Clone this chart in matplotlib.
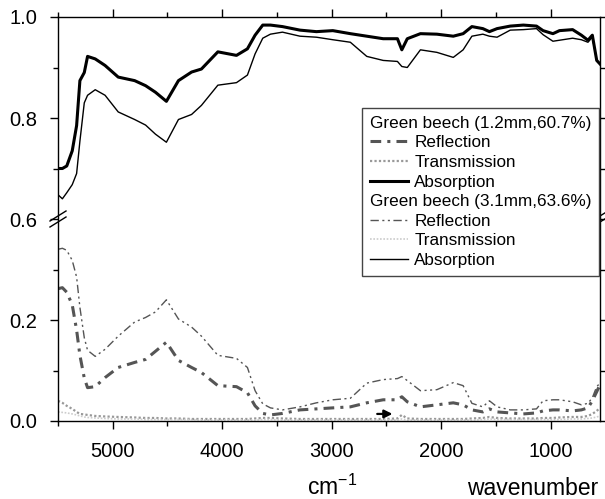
import matplotlib
matplotlib.use('Agg')
import matplotlib.pyplot as plt
from matplotlib.lines import Line2D
from matplotlib.ticker import MultipleLocator, FixedLocator

plt.rcParams['font.family'] = ['Liberation Sans', 'DejaVu Sans']
plt.rcParams['mathtext.fontset'] = 'custom'
plt.rcParams['mathtext.rm'] = 'Liberation Sans'
plt.rcParams['mathtext.default'] = 'regular'

# wavenumber grid (cm^-1)
wn = [5500, 5460, 5420, 5370, 5330, 5300, 5260, 5230, 5160, 5070,
      4950, 4800, 4700, 4610, 4510, 4400, 4280, 4190, 4040, 3870,
      3770, 3700, 3630, 3560, 3450, 3290, 3140, 2990, 2830, 2680,
      2530, 2400, 2360, 2310, 2190, 2040, 1890, 1800, 1720, 1620,
      1560, 1490, 1370, 1250, 1130, 1070, 980, 920, 800, 720,
      660, 620, 580, 550]

# Green beech 1.2mm, 60.7%
abs_12 = [0.700, 0.700, 0.705, 0.735, 0.785, 0.874, 0.890, 0.922, 0.917, 0.904,
          0.881, 0.874, 0.864, 0.851, 0.833, 0.874, 0.891, 0.897, 0.931, 0.924,
          0.937, 0.964, 0.984, 0.984, 0.981, 0.974, 0.971, 0.973, 0.967, 0.962,
          0.957, 0.957, 0.935, 0.957, 0.967, 0.966, 0.962, 0.967, 0.981, 0.977,
          0.971, 0.977, 0.982, 0.984, 0.982, 0.973, 0.967, 0.973, 0.975, 0.964,
          0.954, 0.964, 0.914, 0.907]
ref_12 = [0.262, 0.264, 0.255, 0.230, 0.180, 0.130, 0.085, 0.066, 0.068, 0.086,
          0.106, 0.116, 0.122, 0.138, 0.156, 0.120, 0.106, 0.096, 0.070, 0.068,
          0.056, 0.030, 0.015, 0.012, 0.015, 0.022, 0.024, 0.026, 0.028, 0.036,
          0.042, 0.042, 0.048, 0.038, 0.028, 0.032, 0.036, 0.032, 0.022, 0.018,
          0.024, 0.018, 0.016, 0.014, 0.016, 0.020, 0.022, 0.022, 0.020, 0.022,
          0.026, 0.040, 0.058, 0.072]
tra_12 = [0.040, 0.036, 0.030, 0.024, 0.018, 0.014, 0.013, 0.012, 0.010, 0.009,
          0.008, 0.007, 0.006, 0.006, 0.005, 0.005, 0.004, 0.004, 0.004, 0.004,
          0.004, 0.005, 0.006, 0.006, 0.005, 0.004, 0.004, 0.004, 0.004, 0.004,
          0.004, 0.005, 0.012, 0.005, 0.004, 0.004, 0.004, 0.004, 0.005, 0.006,
          0.008, 0.006, 0.005, 0.005, 0.005, 0.006, 0.006, 0.007, 0.008, 0.008,
          0.010, 0.014, 0.020, 0.026]

# Green beech 3.1mm, 63.6%
abs_31 = [0.648, 0.640, 0.652, 0.668, 0.690, 0.754, 0.830, 0.845, 0.856, 0.845,
          0.812, 0.797, 0.786, 0.768, 0.752, 0.797, 0.807, 0.825, 0.865, 0.870,
          0.885, 0.927, 0.958, 0.966, 0.970, 0.962, 0.960, 0.955, 0.950, 0.922,
          0.914, 0.912, 0.902, 0.900, 0.935, 0.930, 0.920, 0.935, 0.962, 0.966,
          0.962, 0.960, 0.974, 0.975, 0.977, 0.965, 0.952, 0.954, 0.958, 0.955,
          0.950, 0.960, 0.914, 0.907]
ref_31 = [0.340, 0.342, 0.338, 0.318, 0.285, 0.225, 0.165, 0.140, 0.128, 0.142,
          0.168, 0.196, 0.205, 0.216, 0.240, 0.202, 0.186, 0.168, 0.130, 0.124,
          0.106, 0.060, 0.034, 0.026, 0.022, 0.028, 0.036, 0.042, 0.045, 0.075,
          0.082, 0.084, 0.088, 0.080, 0.060, 0.062, 0.076, 0.070, 0.035, 0.028,
          0.040, 0.028, 0.022, 0.022, 0.024, 0.040, 0.042, 0.042, 0.038, 0.032,
          0.035, 0.046, 0.068, 0.075]
tra_31 = [0.018, 0.017, 0.016, 0.014, 0.012, 0.010, 0.008, 0.007, 0.006, 0.005,
          0.004, 0.004, 0.003, 0.003, 0.003, 0.003, 0.003, 0.002, 0.002, 0.002,
          0.002, 0.002, 0.003, 0.003, 0.002, 0.002, 0.002, 0.002, 0.002, 0.002,
          0.002, 0.002, 0.004, 0.002, 0.002, 0.002, 0.002, 0.002, 0.002, 0.003,
          0.004, 0.003, 0.003, 0.003, 0.003, 0.003, 0.003, 0.003, 0.004, 0.004,
          0.005, 0.006, 0.008, 0.010]

W, H = 605, 499
fig = plt.figure(figsize=(W / 100, H / 100), dpi=100)
left, right = 58 / W, 600 / W
ax_top = fig.add_axes([left, (H - 219) / H, right - left, 202 / H])
ax_bot = fig.add_axes([left, (H - 421) / H, right - left, 202 / H])

# curves
a1, = ax_top.plot(wn, abs_12, color='black', lw=2.2)
a2, = ax_top.plot(wn, abs_31, color='black', lw=1.0)
r1, = ax_bot.plot(wn, ref_12, color='#555555', lw=2.2, dashes=[3.5, 2, 1, 2])
t1, = ax_bot.plot(wn, tra_12, color='#999999', lw=1.6, linestyle=(0, (1, 1)))
r2, = ax_bot.plot(wn, ref_31, color='#555555', lw=1.0, dashes=[6, 2.5, 1.5, 2.5, 1.5, 2.5])
t2, = ax_bot.plot(wn, tra_31, color='#cccccc', lw=1.2, linestyle=(0, (1, 1)))

ax_bot.annotate('', xy=(2420, 0.014), xytext=(2610, 0.014),
                arrowprops=dict(arrowstyle='-|>', color='black', lw=1.6, mutation_scale=12))

for ax in (ax_top, ax_bot):
    ax.set_xlim(5500, 550)
    ax.xaxis.set_major_locator(MultipleLocator(1000))
    ax.xaxis.set_minor_locator(MultipleLocator(500))
    ax.tick_params(which='both', direction='out', right=True, labelsize=14.5, pad=9, width=1)
    ax.tick_params(which='major', length=6)
    ax.tick_params(which='minor', length=3.5)
    for s in ax.spines.values():
        s.set_linewidth(1.0)

ax_top.set_ylim(0.6, 1.0)
ax_top.yaxis.set_major_locator(FixedLocator([0.6, 0.8, 1.0]))
ax_top.yaxis.set_minor_locator(FixedLocator([0.7, 0.9]))
ax_top.set_yticklabels(['0.6', '0.8', '1.0'])
ax_top.tick_params(axis='x', which='both', top=True, bottom=False, labelbottom=False)
ax_top.spines['bottom'].set_visible(False)

ax_bot.set_ylim(0.0, 0.4)
ax_bot.yaxis.set_major_locator(FixedLocator([0.0, 0.2]))
ax_bot.yaxis.set_minor_locator(FixedLocator([0.1, 0.3]))
ax_bot.set_yticklabels(['0.0', '0.2'])
ax_bot.tick_params(axis='x', which='both', top=False, bottom=True)
ax_bot.spines['top'].set_visible(False)

# axis break marks
yb = (H - 219) / H
for xc in (left, right):
    for dy in (-3, 3):
        fig.add_artist(Line2D([xc - 8 / W, xc + 8 / W],
                              [yb + (dy - 5) / H, yb + (dy + 5) / H],
                              transform=fig.transFigure, color='black', lw=1.0))

fig.text(307 / W, 1 - 495 / H, 'cm$^{-1}$', fontsize=16.5, ha='left', va='baseline')
fig.text(598 / W, 1 - 495 / H, 'wavenumber', fontsize=16.5, ha='right', va='baseline')

blank = Line2D([], [], linestyle='none')
handles = [blank, r1, t1, a1, blank, r2, t2, a2]
labels = ['Green beech (1.2mm,60.7%)', 'Reflection', 'Transmission', 'Absorption',
          'Green beech (3.1mm,63.6%)', 'Reflection', 'Transmission', 'Absorption']
leg = fig.legend(handles, labels, loc='upper right', bbox_to_anchor=(599 / W, 1 - 108 / H),
                 fontsize=12.3, frameon=True, fancybox=False, edgecolor='#444444',
                 framealpha=1, handlelength=2.25, handletextpad=0.36, labelspacing=0.27,
                 borderpad=0.45, borderaxespad=0)
leg.get_frame().set_linewidth(1.0)

# header rows have no line sample: pull their text to the left edge
for col in leg._legend_handle_box.get_children():
    for row in col.get_children():
        kids = row.get_children()
        if kids[1].get_text().startswith('Green'):
            kids[0].width = 0
            row.sep = 0

fig.savefig('out.png', dpi=100)
